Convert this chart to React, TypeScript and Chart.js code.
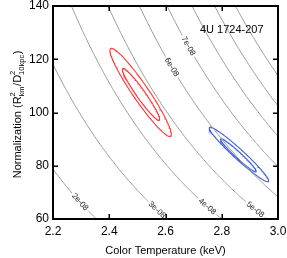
import { useEffect, useRef } from 'react';
import { Chart, registerables } from 'chart.js';

Chart.register(...registerables);

// Axis ranges and tick labels
const xRange = [2.2, 3.0];
const yRange = [60, 140];
const xTicks = [2.2, 2.4, 2.6, 2.8, 3.0];
const yTicks = [60, 80, 100, 120, 140];

// Iso-flux contours (flux in units of 1e-08), N * T^4 = fluxConst * level
const fluxLevels = [2, 3, 4, 5, 6, 7, 8, 9, 10];
const fluxConst = 922;
const labeledLevels = [2, 3, 4, 5, 6, 7];
const labelTexts = ['2e-08', '3e-08', '4e-08', '5e-08', '6e-08', '7e-08'];
const labelTemps = [2.296, 2.57, 2.748, 2.919, 2.622, 2.681];

// Confidence contours: tips of the major axis (T, N) and minor/major ratio
const contourColors = ['#ff3434', '#ff3434', '#3a5fd8', '#3a5fd8'];
const tipStartT = [2.405, 2.448, 2.756, 2.796];
const tipStartN = [124.0, 116.5, 94.4, 90.1];
const tipEndT = [2.618, 2.578, 2.966, 2.922];
const tipEndN = [91.1, 97.1, 74.1, 77.8];
const widthRatio = [0.15, 0.14, 0.125, 0.125];

const sourceName = '4U 1724-207';
const xTitle = 'Color Temperature (keV)';

const FONT = '"Liberation Sans", Arial, Helvetica, sans-serif';

function fluxLine(level: number) {
  const pts: { x: number; y: number }[] = [];
  const n = 200;
  for (let i = 0; i <= n; i++) {
    const t = xRange[0] + ((xRange[1] - xRange[0]) * i) / n;
    pts.push({ x: t, y: (fluxConst * level) / Math.pow(t, 4) });
  }
  return pts;
}

// aspect: N units per T unit of equal on-screen length
const ASPECT = (225 / (xRange[1] - xRange[0])) / (213 / (yRange[1] - yRange[0]));

function ellipse(i: number) {
  const cT = (tipStartT[i] + tipEndT[i]) / 2;
  const cN = (tipStartN[i] + tipEndN[i]) / 2;
  const mT = (tipEndT[i] - tipStartT[i]) / 2;
  const mN = (tipEndN[i] - tipStartN[i]) / 2;
  const a = mT * ASPECT;
  const b = mN;
  const pT = (-b * widthRatio[i]) / ASPECT;
  const pN = a * widthRatio[i];
  const pts: { x: number; y: number }[] = [];
  const n = 160;
  for (let k = 0; k <= n; k++) {
    const th = (2 * Math.PI * k) / n;
    pts.push({
      x: cT + Math.cos(th) * mT + Math.sin(th) * pT,
      y: cN + Math.cos(th) * mN + Math.sin(th) * pN,
    });
  }
  return pts;
}

const decorPlugin = {
  id: 'decor',
  afterDatasetsDraw(chart: any) {
    const ctx = chart.ctx as CanvasRenderingContext2D;
    const xs = chart.scales.x;
    const ys = chart.scales.y;
    const area = chart.chartArea;

    // contour labels
    ctx.save();
    ctx.font = `8px ${FONT}`;
    labeledLevels.forEach((lv, i) => {
      const t = labelTemps[i];
      const nVal = (fluxConst * lv) / Math.pow(t, 4);
      const px = xs.getPixelForValue(t);
      const py = ys.getPixelForValue(nVal);
      const px2 = xs.getPixelForValue(t + 0.002);
      const py2 = ys.getPixelForValue((fluxConst * lv) / Math.pow(t + 0.002, 4));
      const ang = Math.atan2(py2 - py, px2 - px);
      const w = ctx.measureText(labelTexts[i]).width;
      ctx.save();
      ctx.translate(px, py);
      ctx.rotate(ang);
      ctx.fillStyle = '#ffffff';
      ctx.fillRect(-w / 2 - 2, -4, w + 4, 8);
      ctx.fillStyle = '#222';
      ctx.textAlign = 'center';
      ctx.textBaseline = 'middle';
      ctx.fillText(labelTexts[i], 0, 0);
      ctx.restore();
    });
    ctx.restore();

    // box
    ctx.save();
    ctx.strokeStyle = '#000';
    ctx.lineWidth = 2;
    ctx.strokeRect(area.left, area.top, area.right - area.left, area.bottom - area.top);
    // ticks
    ctx.lineWidth = 1.5;
    ctx.beginPath();
    xTicks.forEach((v) => {
      const p = Math.round(xs.getPixelForValue(v)) + 0.25;
      ctx.moveTo(p, area.bottom);
      ctx.lineTo(p, area.bottom - 5);
      ctx.moveTo(p, area.top);
      ctx.lineTo(p, area.top + 5);
    });
    yTicks.forEach((v) => {
      const p = Math.round(ys.getPixelForValue(v)) + 0.25;
      ctx.moveTo(area.left, p);
      ctx.lineTo(area.left + 5, p);
      ctx.moveTo(area.right, p);
      ctx.lineTo(area.right - 5, p);
    });
    ctx.stroke();
    ctx.restore();

    // source name
    ctx.save();
    ctx.fillStyle = '#000';
    ctx.font = `11px ${FONT}`;
    ctx.textAlign = 'left';
    ctx.textBaseline = 'alphabetic';
    ctx.fillText(sourceName, 200, 33);
    ctx.restore();

    // x title
    ctx.save();
    ctx.fillStyle = '#000';
    ctx.font = `11px ${FONT}`;
    ctx.textAlign = 'center';
    ctx.textBaseline = 'alphabetic';
    ctx.fillText(xTitle, (area.left + area.right) / 2, 254);
    ctx.restore();

    // y title with super/subscripts
    ctx.save();
    ctx.fillStyle = '#000';
    const mainF = `11px ${FONT}`;
    const smallF = `7.5px ${FONT}`;
    type Piece = { main?: string; sup?: string; sub?: string };
    const pieces: Piece[] = [
      { main: 'Normalization (R' },
      { sup: '2', sub: 'km' },
      { main: '/D' },
      { sup: '2', sub: '10kpc' },
      { main: ')' },
    ];
    const widths = pieces.map((p) => {
      if (p.main) {
        ctx.font = mainF;
        return ctx.measureText(p.main).width;
      }
      ctx.font = smallF;
      return Math.max(ctx.measureText(p.sup || '').width, ctx.measureText(p.sub || '').width) + 0.5;
    });
    const total = widths.reduce((s, w) => s + w, 0);
    const cy = (area.top + area.bottom) / 2 + 2;
    ctx.translate(21, cy);
    ctx.rotate(-Math.PI / 2);
    ctx.textAlign = 'left';
    ctx.textBaseline = 'alphabetic';
    let x0 = -total / 2;
    pieces.forEach((p, i) => {
      if (p.main) {
        ctx.font = mainF;
        ctx.fillText(p.main, x0, 0);
      } else {
        ctx.font = smallF;
        ctx.fillText(p.sup || '', x0, -6);
        ctx.fillText(p.sub || '', x0, 3);
      }
      x0 += widths[i];
    });
    ctx.restore();
  },
};

export default function App() {
  const ref = useRef<HTMLCanvasElement | null>(null);
  useEffect(() => {
    if (!ref.current) return;
    const datasets: any[] = [];
    fluxLevels.forEach((lv) => {
      datasets.push({
        data: fluxLine(lv),
        borderColor: '#9a9a9a',
        borderWidth: 1,
        pointRadius: 0,
        showLine: true,
        tension: 0,
      });
    });
    contourColors.forEach((c, i) => {
      datasets.push({
        data: ellipse(i),
        borderColor: c,
        borderWidth: 1.1,
        pointRadius: 0,
        showLine: true,
        tension: 0,
      });
    });
    const chart = new Chart(ref.current, {
      type: 'scatter',
      data: { datasets },
      options: {
        animation: false,
        responsive: true,
        maintainAspectRatio: false,
        layout: { padding: { left: 0, top: 6, right: 9, bottom: 0 } },
        plugins: { legend: { display: false }, tooltip: { enabled: false }, title: { display: false } },
        scales: {
          x: {
            type: 'linear',
            min: xRange[0],
            max: xRange[1],
            grid: { display: false, drawTicks: false },
            border: { display: false },
            afterBuildTicks: (s: any) => {
              s.ticks = xTicks.map((v) => ({ value: v }));
            },
            afterFit: (s: any) => {
              s.height = 39;
              s.paddingLeft = 0;
              s.paddingRight = 0;
            },
            ticks: {
              color: '#000',
              font: { family: FONT, size: 12 },
              padding: 5,
              maxRotation: 0,
              callback: (v: any) => Number(v).toFixed(1),
            },
          },
          y: {
            type: 'linear',
            min: yRange[0],
            max: yRange[1],
            grid: { display: false, drawTicks: false },
            border: { display: false },
            afterBuildTicks: (s: any) => {
              s.ticks = yTicks.map((v) => ({ value: v }));
            },
            afterFit: (s: any) => {
              s.width = 53;
              s.paddingTop = 0;
              s.paddingBottom = 0;
            },
            ticks: {
              color: '#000',
              font: { family: FONT, size: 12 },
              padding: 4,
              callback: (v: any) => String(Math.round(Number(v))),
            },
          },
        },
      },
      plugins: [decorPlugin],
    });
    return () => chart.destroy();
  }, []);
  return (
    <div style={{ position: 'absolute', left: 0, top: 0, width: 287, height: 258, background: '#fff' }}>
      <canvas ref={ref} />
    </div>
  );
}
